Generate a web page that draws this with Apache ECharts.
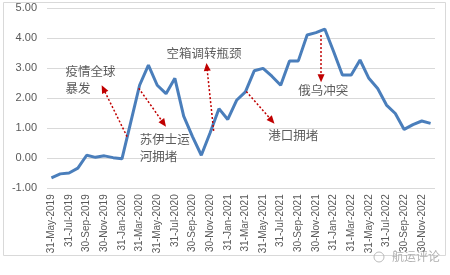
<!DOCTYPE html>
<html><head><meta charset="utf-8">
<script src="https://cdn.jsdelivr.net/npm/echarts@6/dist/echarts.min.js"></script>
<style>html,body{margin:0;padding:0;background:#fff}#c{width:450px;height:275px}</style>
</head><body><div id="c"></div>
<script>
var categories = ["31-May-2019","30-Jun-2019","31-Jul-2019","31-Aug-2019","30-Sep-2019","31-Oct-2019","30-Nov-2019","31-Dec-2019",
"31-Jan-2020","29-Feb-2020","31-Mar-2020","30-Apr-2020","31-May-2020","30-Jun-2020","31-Jul-2020","31-Aug-2020","30-Sep-2020","31-Oct-2020","30-Nov-2020","31-Dec-2020",
"31-Jan-2021","28-Feb-2021","31-Mar-2021","30-Apr-2021","31-May-2021","30-Jun-2021","31-Jul-2021","31-Aug-2021","30-Sep-2021","31-Oct-2021","30-Nov-2021","31-Dec-2021",
"31-Jan-2022","28-Feb-2022","31-Mar-2022","30-Apr-2022","31-May-2022","30-Jun-2022","31-Jul-2022","31-Aug-2022","30-Sep-2022","31-Oct-2022","30-Nov-2022","31-Dec-2022"];
var values = [-0.65,-0.52,-0.49,-0.33,0.10,0.03,0.08,0.02,
-0.02,1.20,2.43,3.10,2.43,2.15,2.66,1.40,0.72,0.10,0.85,1.65,
1.29,1.93,2.21,2.91,2.99,2.73,2.43,3.24,3.24,4.10,4.18,4.30,
3.55,2.77,2.77,3.27,2.66,2.32,1.77,1.49,0.96,1.12,1.24,1.16];
var yTicks = [-1,0,1,2,3,4,5];
// annotation texts: [categoryPosition, value, text]
var noteTexts = [
  [1.59, 2.62, "疫情全球\n暴发"],
  [10.03, 0.34, "苏伊士运\n河拥堵"],
  [13.04, 3.50, "空箱调转瓶颈"],
  [24.6, 0.77, "港口拥堵"],
  [28.0, 2.25, "俄乌冲突"]
];
// annotation arrows: [fromPos, fromValue, toPos, toValue]
var noteArrows = [
  [8.58, 0.72, 5.90, 2.31],
  [9.90, 2.33, 12.73, 1.16],
  [18.40, 0.91, 17.63, 3.04],
  [22.10, 2.22, 25.00, 1.25],
  [30.58, 4.10, 30.58, 2.66]
];
var watermark = "航运评论";

var chart = echarts.init(document.getElementById('c'), null, {renderer:'canvas'});
var cjk = "'Noto Sans CJK SC', sans-serif";
chart.setOption({
  animation: false,
  backgroundColor: '#fff',
  grid: {left: 47, right: 15, top: 8, bottom: 86.7},
  xAxis: [{
    type: 'category', data: categories, boundaryGap: true,
    axisLine: {show: false}, axisTick: {show: false},
    axisLabel: {interval: 1, rotate: 90, margin: 6, color: '#595959', fontSize: 10,
      fontFamily: "'Liberation Sans Narrow', 'Liberation Sans', sans-serif"},
    splitLine: {show: false}
  }, {
    type: 'value', min: -0.5, max: categories.length - 0.5, show: false
  }],
  yAxis: {
    type: 'value', min: yTicks[0], max: yTicks[yTicks.length-1], interval: 1,
    axisLine: {show: false}, axisTick: {show: false},
    axisLabel: {margin: 10, color: '#595959', fontSize: 11, fontFamily: "'Liberation Sans', sans-serif",
      formatter: function(v){ return v.toFixed(2); }},
    splitLine: {lineStyle: {color: '#d9d9d9', width: 1}}
  },
  series: [{
    type: 'line', data: values, symbol: 'none', smooth: false,
    lineStyle: {color: '#4a7ebb', width: 3}, itemStyle: {color: '#4a7ebb'}, z: 3
  }, {
    type: 'scatter', xAxisIndex: 1, symbolSize: 0, silent: true,
    data: noteTexts.map(function(n){ return {value: [n[0], n[1]], name: n[2]}; }),
    label: {show: true, position: [0, 0], align: 'left', verticalAlign: 'middle',
      formatter: function(p){ return p.name; },
      color: '#333', fontSize: 12.5, lineHeight: 17, fontFamily: cjk}
  }, {
    type: 'line', xAxisIndex: 1, data: [], silent: true,
    markLine: {
      silent: true, symbol: ['none', 'triangle'], symbolSize: [7, 8],
      label: {show: false},
      lineStyle: {color: '#c00000', width: 1.5, type: [2, 2]},
      data: noteArrows.map(function(a){ return [{coord: [a[0], a[1]]}, {coord: [a[2], a[3]]}]; })
    }
  }],
  graphic: [{
    type: 'rect', shape: {x: 3.5, y: 2.5, width: 442, height: 253}, silent: true,
    style: {fill: 'none', stroke: '#d9d9d9', lineWidth: 1}, z: -1
  }, {
    type: 'text', left: 392, top: 250, silent: true,
    style: {text: watermark, fill: '#b0b0b0', font: "12px 'Noto Sans CJK SC', sans-serif"}
  }, {
    type: 'circle', shape: {cx: 379, cy: 257, r: 5}, silent: true,
    style: {fill: 'none', stroke: '#bbb', lineWidth: 1}
  }]
});
</script></body></html>
